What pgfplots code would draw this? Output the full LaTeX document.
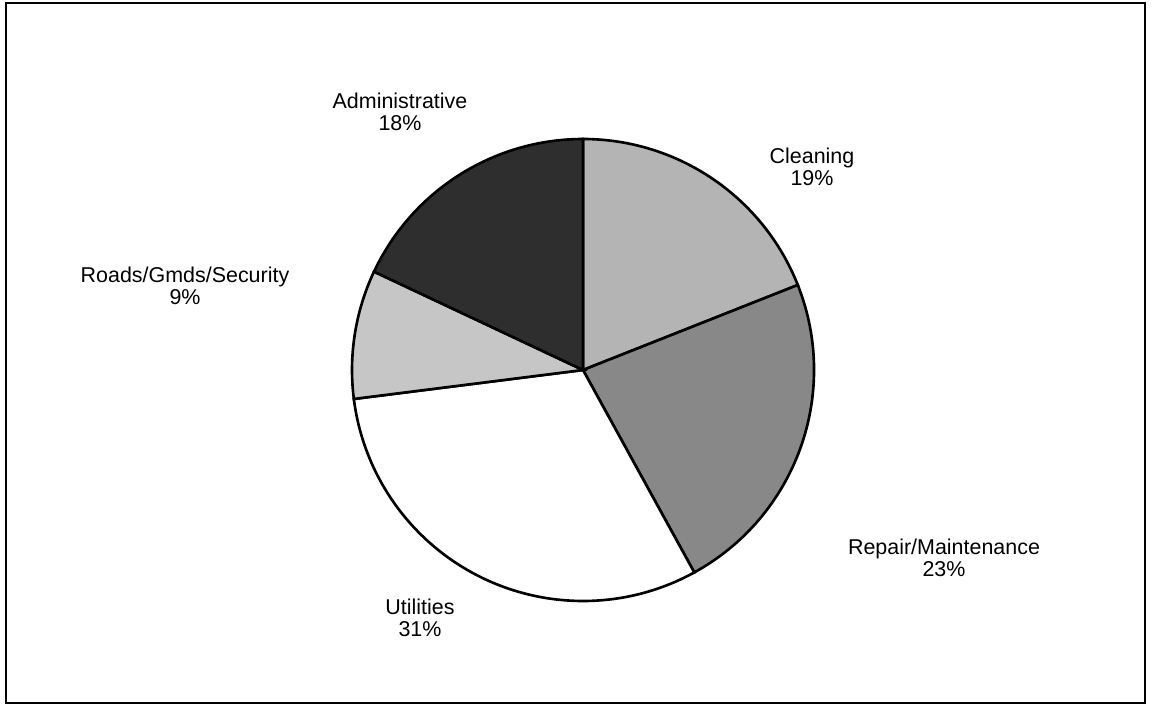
\documentclass[border=0pt]{standalone}
\usepackage{pgfplots}
\pgfplotsset{compat=1.18}
\usepackage{pgfplotstable}
\usepackage{fontspec}
\setmainfont{Liberation Sans}

\definecolor{cclean}{HTML}{B4B4B4}
\definecolor{crepair}{HTML}{888888}
\definecolor{cutil}{HTML}{FFFFFF}
\definecolor{croads}{HTML}{C6C6C6}
\definecolor{cadmin}{HTML}{2E2E2E}

% shares in percent, clockwise from 12 o'clock
\pgfplotstableread{
label pct
Cleaning 19
Repair 23
Utilities 31
Roads 9
Administrative 18
}\piedata

% start/end angle of every slice
\pgfmathsetmacro\acc{90}
\foreach \i in {0,...,4}{
  \pgfplotstablegetelem{\i}{pct}\of\piedata
  \pgfmathsetmacro\tmp{\acc-3.6*\pgfplotsretval}
  \expandafter\xdef\csname sa\i\endcsname{\acc}
  \expandafter\xdef\csname ea\i\endcsname{\tmp}
  \global\let\acc\tmp
}

\newcommand\slice[2]{%
  \draw[line width=0.75pt, fill=#2] (axis cs:583,342)
    -- ++(\csname sa#1\endcsname:2.31cm)
    arc[start angle=\csname sa#1\endcsname, end angle=\csname ea#1\endcsname, radius=2.31cm]
    -- cycle;}

\begin{document}
\begin{tikzpicture}
\begin{axis}[
    width=11.53cm, height=7.12cm,
    scale only axis,
    xmin=0, xmax=1153, ymin=0, ymax=712,
    hide axis,
    clip=false,
]
\path[fill=white] (axis cs:0,0) rectangle (axis cs:1153,712);
\draw[line width=0.6pt] (axis cs:6,9) rectangle (axis cs:1145,709);

\slice{0}{cclean}
\slice{1}{crepair}
\slice{2}{cutil}
\slice{3}{croads}
\slice{4}{cadmin}

\tikzset{lbl/.style={align=center, font=\fontsize{6.1}{6.4}\selectfont}}
\node[lbl] at (axis cs:400,600) {Administrative\\18\%};
\node[lbl] at (axis cs:812,545) {Cleaning\\19\%};
\node[lbl] at (axis cs:185,426) {Roads/Gmds/Security\\9\%};
\node[lbl] at (axis cs:944,154) {Repair/Maintenance\\23\%};
\node[lbl] at (axis cs:420,94) {Utilities\\31\%};
\end{axis}
\end{tikzpicture}
\end{document}
